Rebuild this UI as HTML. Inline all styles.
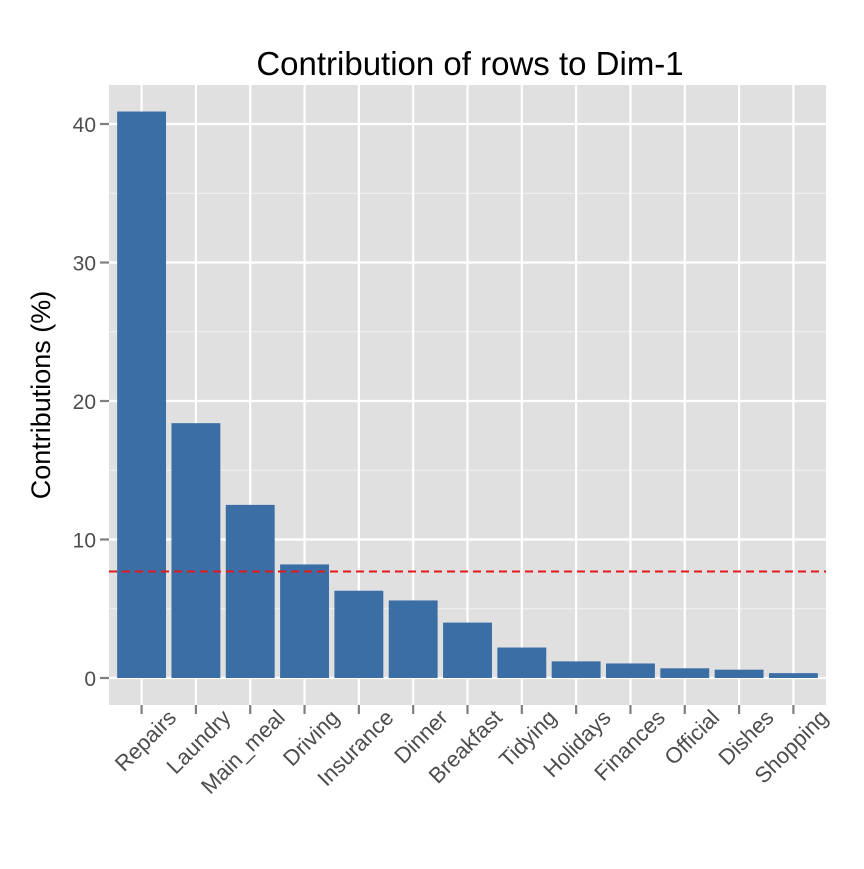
<!DOCTYPE html>
<html><head><meta charset="utf-8"><style>
body{margin:0;background:#fff}
text{font-family:"Liberation Sans",sans-serif}
</style></head><body>
<svg id="chart" width="864" height="864">
<rect width="864" height="864" fill="#fff"/>
<text x="470" y="75" font-size="33" text-anchor="middle" fill="#000">Contribution of rows to Dim-1</text>
<text transform="translate(50,395) rotate(-90)" font-size="27" text-anchor="middle" fill="#000">Contributions (%)</text>
<rect x="109" y="85" width="717" height="620" fill="#e0e0e0"/>
<g id="grid"></g><g id="bars"></g><g id="axes"></g>
</svg>
<script>
const categories=["Repairs","Laundry","Main_meal","Driving","Insurance","Dinner","Breakfast","Tidying","Holidays","Finances","Official","Dishes","Shopping"];
const values=[40.9,18.4,12.5,8.2,6.3,5.6,4.0,2.2,1.2,1.05,0.7,0.6,0.35];
const yTicks=[0,10,20,30,40];
const refLine=[7.69];
const NS="http://www.w3.org/2000/svg";
const L=109,R=826,T=85,B=705;
const step=(R-L)/(categories.length+0.2);
const xs=i=>L+(0.6+i)*step;
const ys=v=>678-v*13.85;
function mk(tag,attrs,parent){const e=document.createElementNS(NS,tag);for(const k in attrs)e.setAttribute(k,attrs[k]);document.getElementById(parent).appendChild(e);return e;}
for(let i=0;i<yTicks.length;i++){
 const mv=yTicks[i]+5; if(ys(mv)>T){const g=mk('line',{x1:L,x2:R,y1:ys(mv),y2:ys(mv),stroke:'#f2f2f2','stroke-width':1},'grid');
 
 }
 const mv2=yTicks[i]-5; if(i==0&&ys(mv2)<B){const g=mk('line',{x1:L,x2:R,y1:ys(mv2),y2:ys(mv2),stroke:'#f2f2f2','stroke-width':1},'grid');
 
 }
}
yTicks.forEach(v=>{
 const g=mk('line',{x1:L,x2:R,y1:ys(v),y2:ys(v),stroke:'#fff','stroke-width':2.2},'grid');
 
 
 const t=mk('line',{x1:L-9,x2:L,y1:ys(v),y2:ys(v),stroke:'#7f7f7f','stroke-width':2.2},'axes');
 
 
 const lb=mk('text',{x:L-13,y:ys(v)+8,'font-size':21,'text-anchor':'end',fill:'#4d4d4d'},'axes');
 lb.textContent=v;
 
 
});
categories.forEach((c,i)=>{
 const x=xs(i);
 const g=mk('line',{x1:x,x2:x,y1:T,y2:B,stroke:'#fff','stroke-width':2.2},'grid');
 
 
 const bw=step*0.9;
 const b=mk('rect',{x:x-bw/2,y:ys(values[i]),width:bw,height:ys(0)-ys(values[i]),fill:'#3a6ea5'},'bars');
 
 
 const t=mk('line',{x1:x,x2:x,y1:B,y2:B+9,stroke:'#7f7f7f','stroke-width':2.2},'axes');
 
 
 const lb=mk('text',{transform:`translate(${x+36},${B+14}) rotate(-45)`,'font-size':22,'text-anchor':'end',fill:'#4d4d4d'},'axes');
 lb.textContent=c;
 
 
});
const d=mk('line',{x1:L,x2:R,y1:ys(refLine[0]),y2:ys(refLine[0]),stroke:'#e31a1c','stroke-width':2,'stroke-dasharray':'8,5'},'bars');


</script>
</body></html>
